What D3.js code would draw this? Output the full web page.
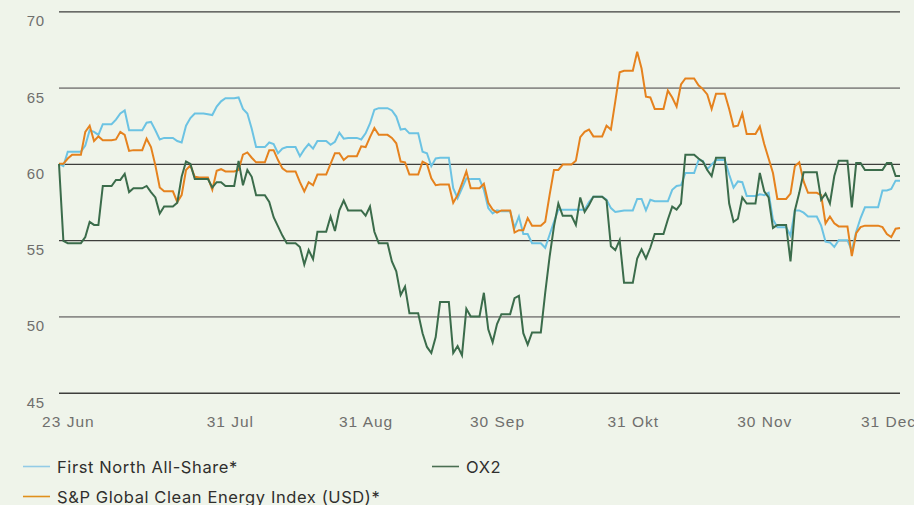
<!DOCTYPE html>
<html>
<head>
<meta charset="utf-8">
<script src="https://cdn.jsdelivr.net/npm/d3@7"></script>
<style>
  body { margin: 0; background: #eff4ea; }
  svg { display: block; font-family: Inter, "Noto Sans", sans-serif; }
</style>
</head>
<body>
<div id="chart"></div>
<script>
// Daily values (calendar days, 22 Jun - 31 Dec), indexed to 60 at start
const startDate = new Date(2021, 5, 22);
const endDate = new Date(2021, 11, 31);

const firstNorth = [
  60.0, 59.85, 60.8, 60.8, 60.8, 60.8, 61.2, 62.2, 62.1, 61.9,
  62.6, 62.6, 62.6, 62.9, 63.3, 63.5, 62.2, 62.2, 62.2, 62.2,
  62.7, 62.75, 62.2, 61.6, 61.7, 61.7, 61.7, 61.5, 61.4, 62.5,
  63.0, 63.3, 63.3, 63.3, 63.25, 63.2, 63.75, 64.1, 64.3, 64.3,
  64.3, 64.35, 63.6, 63.3, 62.3, 61.1, 61.1, 61.1, 61.4, 61.3,
  60.7, 61.0, 61.1, 61.1, 61.1, 60.5, 60.95, 61.3, 61.0, 61.5,
  61.5, 61.5, 61.25, 61.45, 62.05, 61.65, 61.7, 61.7, 61.7, 61.6,
  62.0, 62.65, 63.55, 63.65, 63.65, 63.65, 63.5, 63.1, 62.25, 62.3,
  62.0, 62.0, 62.0, 60.8, 60.7, 59.85, 60.35, 60.4, 60.4, 60.4,
  58.4, 57.75, 58.4, 59.05, 59.0, 59.0, 59.0, 58.3, 57.1, 56.75,
  56.95, 56.9, 56.9, 56.9, 55.8, 56.55, 55.4, 55.4, 54.8, 54.8,
  54.8, 54.5, 55.35, 56.2, 57.0, 57.0, 57.0, 57.0, 57.0, 57.0,
  57.0, 57.5, 57.85, 57.85, 57.85, 57.65, 57.1, 56.85, 56.9, 56.95,
  56.95, 56.95, 57.7, 57.7, 56.95, 57.65, 57.55, 57.55, 57.55, 57.55,
  58.3, 58.55, 58.6, 59.4, 59.4, 59.4, 60.25, 60.2, 59.65, 59.95,
  60.25, 60.25, 60.25, 59.3, 58.45, 58.85, 58.8, 57.9, 57.9, 57.9,
  58.0, 57.95, 58.1, 56.35, 55.85, 55.85, 55.85, 55.3, 56.95, 56.95,
  56.8, 56.55, 56.55, 56.55, 55.95, 54.9, 54.85, 54.55, 55.0, 55.0,
  55.0, 54.3, 55.55, 56.45, 57.15, 57.15, 57.15, 57.15, 58.25, 58.25,
  58.35, 58.9, 58.9
];

const cleanEnergy = [
  60.0, 60.0, 60.35, 60.6, 60.6, 60.6, 62.1, 62.5, 61.5, 61.8,
  61.55, 61.55, 61.55, 61.6, 62.1, 61.9, 60.85, 60.9, 60.9, 60.9,
  61.65, 61.1, 59.9, 58.45, 58.2, 58.2, 58.2, 57.5, 57.95, 59.6,
  59.9, 59.15, 59.1, 59.1, 59.1, 58.3, 59.55, 59.65, 59.5, 59.5,
  59.5, 59.6, 60.6, 60.75, 60.4, 60.1, 60.1, 60.1, 60.9, 60.9,
  60.25, 59.7, 59.5, 59.5, 59.5, 58.8, 58.2, 58.8, 58.6, 59.3,
  59.3, 59.3, 60.0, 60.7, 60.7, 60.25, 60.5, 60.5, 60.5, 61.15,
  61.1, 61.75, 62.35, 61.9, 61.9, 61.9, 61.7, 61.35, 60.15, 60.1,
  59.3, 59.3, 59.3, 60.15, 60.0, 59.05, 58.6, 58.65, 58.65, 58.65,
  57.45, 57.95, 58.7, 59.5, 58.4, 58.4, 58.4, 58.7, 57.45, 57.0,
  56.8, 56.95, 56.95, 56.95, 55.5, 55.65, 55.65, 56.45, 55.95, 55.95,
  55.95, 56.2, 57.95, 59.6, 59.6, 59.95, 59.95, 59.95, 60.2, 61.75,
  62.1, 62.25, 61.8, 61.8, 61.8, 62.5, 62.25, 64.1, 66.0, 66.1,
  66.1, 66.1, 67.35, 66.25, 64.4, 64.35, 63.6, 63.6, 63.6, 64.8,
  64.35, 63.75, 65.2, 65.6, 65.6, 65.6, 65.15, 64.9, 64.55, 63.6,
  64.6, 64.6, 64.6, 63.6, 62.45, 62.5, 63.3, 61.95, 61.95, 61.95,
  62.45, 61.3, 60.35, 59.4, 57.7, 57.7, 57.7, 58.05, 59.85, 60.1,
  58.85, 58.1, 58.1, 58.1, 57.95, 56.1, 56.55, 56.1, 55.9, 55.9,
  55.9, 53.95, 55.45, 55.85, 55.95, 55.95, 55.95, 55.95, 55.85, 55.4,
  55.2, 55.75, 55.8
];

const ox2 = [
  60.0, 54.95, 54.8, 54.8, 54.8, 54.8, 55.2, 56.2, 56.0, 56.0,
  58.55, 58.55, 58.55, 58.95, 58.95, 59.35, 58.15, 58.4, 58.4, 58.4,
  58.55, 58.15, 57.8, 56.75, 57.2, 57.2, 57.2, 57.45, 59.15, 60.15,
  60.0, 59.0, 59.0, 59.0, 59.0, 58.45, 58.8, 58.8, 58.55, 58.55,
  58.55, 60.2, 58.6, 59.6, 59.15, 57.95, 57.95, 57.95, 57.5, 56.5,
  55.9, 55.3, 54.8, 54.8, 54.8, 54.55, 53.4, 54.35, 53.75, 55.55,
  55.55, 55.55, 56.55, 55.6, 56.95, 57.6, 56.95, 56.95, 56.95, 56.95,
  56.6, 57.2, 55.55, 54.8, 54.8, 54.8, 53.6, 52.95, 51.4, 51.95,
  50.2, 50.2, 50.2, 48.9, 48.0, 47.6, 48.65, 50.95, 50.95, 50.95,
  47.6, 48.05, 47.45, 50.5, 50.0, 50.0, 50.0, 51.55, 49.15, 48.3,
  49.5, 50.15, 50.15, 50.15, 51.2, 51.35, 48.9, 48.15, 48.95, 48.95,
  48.95, 51.55, 53.9, 55.9, 57.4, 56.6, 56.6, 56.6, 56.0, 57.8,
  56.85, 57.3, 57.85, 57.85, 57.85, 57.6, 54.6, 54.35, 55.0, 52.2,
  52.2, 52.2, 53.8, 54.4, 53.8, 54.5, 55.4, 55.4, 55.4, 56.35,
  57.2, 57.0, 57.4, 60.6, 60.6, 60.6, 60.35, 60.15, 59.6, 59.2,
  60.4, 60.4, 60.4, 57.4, 56.2, 56.4, 57.8, 57.4, 57.4, 57.4,
  59.4, 58.2, 57.8, 55.8, 56.0, 56.0, 56.0, 53.6, 56.95, 58.1,
  59.45, 59.45, 59.45, 59.45, 57.65, 58.05, 57.4, 59.2, 60.2, 60.2,
  60.2, 57.15, 60.05, 60.05, 59.6, 59.6, 59.6, 59.6, 59.6, 60.05,
  60.05, 59.2, 59.2
];

const yTicks = [45, 50, 55, 60, 65, 70];
const xTickDates = [
  new Date(2021, 5, 23), new Date(2021, 6, 31), new Date(2021, 7, 31),
  new Date(2021, 8, 30), new Date(2021, 9, 31), new Date(2021, 10, 30),
  new Date(2021, 11, 31)
];
const xTickLabels = ["23 Jun", "31 Jul", "31 Aug", "30 Sep", "31 Okt", "30 Nov", "31 Dec"];

const seriesNames = ["First North All-Share*", "S&P Global Clean Energy Index (USD)*", "OX2"];
const seriesColors = ["#6cc3e3", "#e5821e", "#3b6c4b"];
const legendColors = ["#93cbe6", "#e0901c", "#4a6e52"];

const dates = d3.timeDay.range(startDate, d3.timeDay.offset(endDate, 1));

const W = 914, H = 505;
const margin = { top: 11.3, right: 14, bottom: 112.3, left: 59 };
const width = W - margin.left - margin.right;
const height = H - margin.top - margin.bottom;

const svg = d3.select("#chart").append("svg")
    .attr("width", W)
    .attr("height", H);

const g = svg.append("g")
    .attr("transform", `translate(${margin.left},${margin.top})`);

const x = d3.scaleTime().domain([startDate, endDate]).range([0, width]);
const y = d3.scaleLinear().domain([45, 70]).range([height, 0]);

// gridlines + y labels
const yAxis = g.append("g")
    .call(d3.axisLeft(y).tickValues(yTicks).tickSize(-width).tickFormat(d3.format("d")));
yAxis.select(".domain").remove();
yAxis.selectAll("line")
    .attr("stroke", d => (d === 65 || d === 50) ? "#8d8d8a" : "#3e3e3c")
    .attr("stroke-width", d => (d === 65 || d === 50) ? 1.8 : (d === 45 ? 1.6 : 1.2));
yAxis.selectAll("text")
    .attr("x", -14)
    .attr("y", 14.5)
    .attr("dy", null)
    .attr("text-anchor", "end")
    .attr("fill", "#6f6f6d")
    .style("font-size", "15px")
    .style("letter-spacing", "0.8px");

// x labels
const xAxis = g.append("g")
    .attr("transform", `translate(0,${height})`)
    .call(d3.axisBottom(x).tickValues(xTickDates).tickSize(0)
        .tickFormat((d, i) => xTickLabels[i]));
xAxis.select(".domain").remove();
xAxis.selectAll("text")
    .attr("y", 34)
    .attr("dy", null)
    .attr("dx", (d, i) => i === 0 ? 4.5 : (i === xTickDates.length - 1 ? -12 : 0))
    .attr("fill", "#6f6f6d")
    .style("font-size", "15.5px")
    .style("letter-spacing", "1px");

// lines
const line = d3.line()
    .x((d, i) => x(dates[i]))
    .y(d => y(d));

[firstNorth, cleanEnergy, ox2].forEach((values, k) => {
    g.append("path")
        .datum(values)
        .attr("fill", "none")
        .attr("stroke", seriesColors[k])
        .attr("stroke-width", 2)
        .attr("stroke-linejoin", "miter")
        .attr("d", line);
});

// legend
const legendItems = [
    { name: seriesNames[0], color: legendColors[0], x: 23, y: 466.5 },
    { name: seriesNames[2], color: legendColors[2], x: 432, y: 466.5 },
    { name: seriesNames[1], color: legendColors[1], x: 23, y: 496.5 }
];

const legend = svg.selectAll(".legend")
    .data(legendItems)
    .enter()
    .append("g")
    .attr("class", "legend")
    .attr("transform", d => `translate(${d.x},${d.y})`);

legend.append("line")
    .attr("x1", 0)
    .attr("x2", 27)
    .attr("stroke", d => d.color)
    .attr("stroke-width", 1.6);

legend.append("text")
    .attr("x", 34)
    .attr("y", 6.5)
    .attr("fill", "#2f2f2d")
    .style("font-size", "16.5px")
    .style("letter-spacing", "0.6px")
    .text(d => d.name);
</script>
</body>
</html>
